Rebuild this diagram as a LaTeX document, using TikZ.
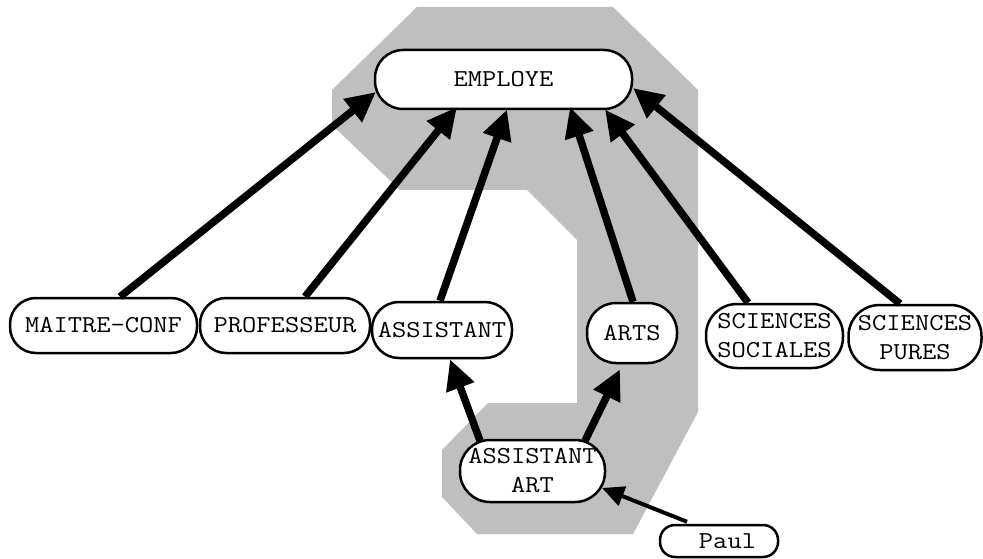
\documentclass[tikz,border=0pt]{standalone}
\usepackage{fontspec}
\setmonofont[FakeStretch=1.14]{Latin Modern Mono}
\usetikzlibrary{arrows.meta,calc}
\definecolor{regiongray}{RGB}{191,191,191}
\begin{document}
\begin{tikzpicture}[x=1pt,y=-1pt,
  box/.style={draw,line width=2.5pt,fill=white,inner sep=0pt,align=center,
    font=\ttfamily\fontsize{24.3}{29}\selectfont},
  edge/.style={line width=7.5pt,-{Triangle[length=30pt,width=28pt]}},
  thinedge/.style={line width=4pt,-{Triangle[length=22pt,width=20pt]}}]
\useasboundingbox (0,0) rectangle (983,559);
% grey region
\fill[regiongray] (417,7) -- (613,7) -- (698,90) -- (698,412) -- (633,534) -- (477,534)
  -- (442,497) -- (442,450) -- (488,403) -- (577,403) -- (577,240) -- (527,190)
  -- (400,190) -- (332,125) -- (332,90) -- cycle;
% nodes
\node[box,minimum width=257pt,minimum height=59pt,rounded corners=28pt] (emp) at (503.5,79.5) {EMPLOYE};
\node[box,minimum width=187pt,minimum height=55pt,rounded corners=26pt] (mc) at (103.5,325.5) {MAITRE-CONF};
\node[box,minimum width=170pt,minimum height=55pt,rounded corners=26pt] (prof) at (285,325.5) {PROFESSEUR};
\node[box,minimum width=140pt,minimum height=56pt,rounded corners=27pt] (asst) at (442,330) {ASSISTANT};
\node[box,minimum width=90pt,minimum height=60pt,rounded corners=29pt] (arts) at (632,333) {ARTS};
\node[box,minimum width=137pt,minimum height=64pt,rounded corners=31pt] (ss) at (774.5,336) {SCIENCES\\SOCIALES};
\node[box,minimum width=133pt,minimum height=65pt,rounded corners=31pt] (sp) at (915,337.5) {SCIENCES\\PURES};
\node[box,minimum width=145pt,minimum height=62pt,rounded corners=30pt] (aa) at (532.5,471) {ASSISTANT\\ART};
\node[box,minimum width=118pt,minimum height=32pt,rounded corners=15pt] (paul) at (719,541) {\hspace{17pt}Paul};
% connectors
\draw[edge] ($(mc.north)+(16.5,0)$) -- ($(emp.center)+(-127.5,12.5)$);
\draw[edge] ($(prof.north)+(20,0)$) -- ($(emp.center)+(-46.5,27.5)$);
\draw[edge] ($(asst.north)+(-2,0)$) -- ($(emp.center)+(3.5,30)$);
\draw[edge] ($(arts.north)+(1,0)$) -- ($(emp.center)+(66.5,27.5)$);
\draw[edge] ($(ss.north)+(-26.5,0)$) -- ($(emp.center)+(101.5,30)$);
\draw[edge] ($(sp.north)+(-15,0)$) -- ($(emp.center)+(129.5,8.5)$);
\draw[edge] ($(aa.north)+(-52.5,2)$) -- ($(asst.south)+(8,0)$);
\draw[edge] ($(aa.north)+(52.5,2)$) -- ($(arts.south)+(-12,5)$);
\draw[thinedge] ($(paul.north)+(-32,-2)$) -- ($(aa.center)+(69.5,17)$);
\end{tikzpicture}
\end{document}
